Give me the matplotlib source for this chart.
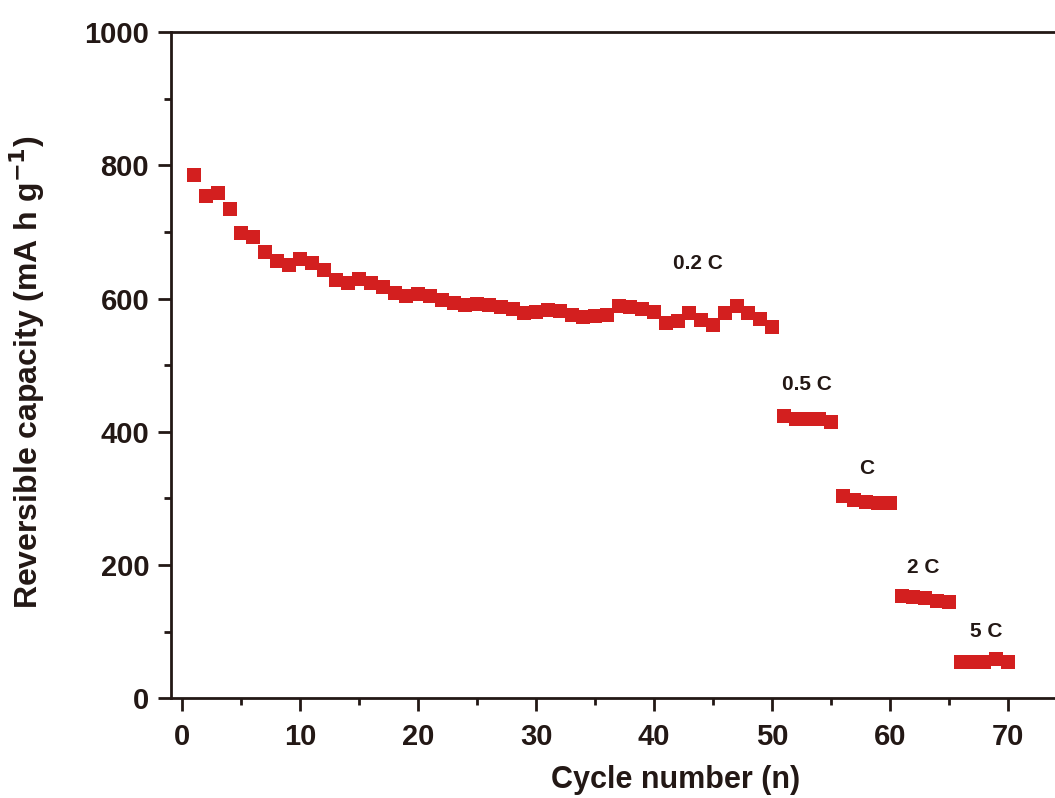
import numpy as np
import matplotlib
matplotlib.use('Agg')
import matplotlib.pyplot as plt
from matplotlib.ticker import MultipleLocator

plt.rcParams.update({
    "font.family": ["Liberation Sans", "DejaVu Sans"],
    "font.weight": "bold",
    "figure.dpi": 100,
})

INK = "#231815"
RED = "#d31f1f"

# ── data: reversible capacity (mA h g-1) per cycle, grouped by C-rate ──
cap_02C = [785, 754, 758, 734, 698, 692, 670, 656, 651, 659,
           653, 643, 628, 623, 629, 624, 617, 609, 604, 607,
           604, 598, 594, 590, 592, 590, 588, 584, 579, 580,
           583, 582, 576, 572, 574, 576, 589, 587, 584, 580,
           564, 567, 579, 568, 561, 578, 589, 578, 569, 557]
cap_05C = [423, 419, 419, 419, 415]
cap_1C = [303, 297, 294, 293, 293]
cap_2C = [153, 152, 150, 146, 145]
cap_5C = [55, 55, 55, 59, 55]
rate_labels = ["0.2 C", "0.5 C", "C", "2 C", "5 C"]

capacity = cap_02C + cap_05C + cap_1C + cap_2C + cap_5C
cycle = list(range(1, len(capacity) + 1))

xticks = [0, 10, 20, 30, 40, 50, 60, 70]
yticks = [0, 200, 400, 600, 800, 1000]


def main():
    fig = plt.figure(figsize=(10.55, 7.98))
    # axes runs past the right edge, as in the cropped original
    ax = fig.add_axes([0.1618, 0.1249, 0.8493, 0.8350])

    ax.plot(cycle, capacity, "s", color=RED, ms=10, mec=RED, mew=0)

    # rate annotations (text positions in data coords)
    label_pos = [(43.7, 653), (53.0, 471), (58.0, 345), (62.85, 197), (68.2, 101)]
    for txt, (x, y) in zip(rate_labels, label_pos):
        ax.text(x, y, txt, ha="center", va="center", fontsize=15,
                fontweight="bold", color=INK)

    ax.set_xlim(-1, 75)
    ax.set_ylim(0, 1000)
    ax.set_xticks(xticks)
    ax.set_yticks(yticks)
    ax.xaxis.set_minor_locator(MultipleLocator(5))
    ax.yaxis.set_minor_locator(MultipleLocator(100))

    for side in ["left", "bottom", "top"]:
        ax.spines[side].set_linewidth(2.0)
        ax.spines[side].set_color(INK)
    ax.spines["right"].set_visible(False)

    ax.tick_params(which="major", direction="out", length=9.5, width=2.0,
                   color=INK, labelsize=21, labelcolor=INK)
    ax.tick_params(which="minor", direction="out", length=5, width=2.0, color=INK)
    ax.tick_params(axis="x", which="major", pad=8)
    ax.tick_params(axis="y", which="major", pad=6)
    ax.tick_params(top=False, right=False, which="both")

    for lab in ax.get_xticklabels() + ax.get_yticklabels():
        lab.set_fontweight("bold")

    ax.set_xlabel("Cycle number (n)", fontsize=22, fontweight="bold", color=INK)
    ax.set_ylabel("Reversible capacity (mA h g$^{\\mathbf{-1}}$)", fontsize=23,
                  fontweight="bold", color=INK)
    ax.xaxis.set_label_coords(0.564, -0.10)
    ax.yaxis.set_label_coords(-0.138, 0.49)

    fig.savefig("out.png", dpi=100)
    plt.close(fig)


if __name__ == "__main__":
    main()
